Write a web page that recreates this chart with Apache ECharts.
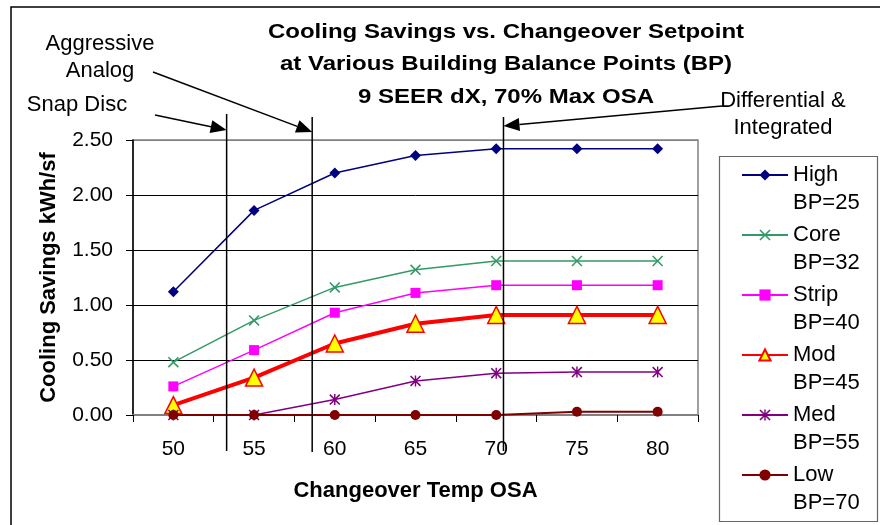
<!DOCTYPE html>
<html>
<head>
<meta charset="utf-8">
<script src="https://cdn.jsdelivr.net/npm/echarts@6/dist/echarts.min.js"></script>
<style>
  html, body { margin: 0; padding: 0; background: #fff; }
  #chart { width: 880px; height: 525px; }
</style>
</head>
<body>
<div id="chart"></div>
<script>
// Changeover setpoint (deg F outside air) on the category axis
const temps = ['50', '55', '60', '65', '70', '75', '80'];

// Building types and their balance points
const seriesNames = ['High', 'Core', 'Strip', 'Mod', 'Med', 'Low'];
const balancePoints = ['BP=25', 'BP=32', 'BP=40', 'BP=45', 'BP=55', 'BP=70'];

// Cooling savings, kWh/sf
const high  = [1.12, 1.86, 2.20, 2.36, 2.42, 2.42, 2.42];
const core  = [0.48, 0.86, 1.16, 1.32, 1.40, 1.40, 1.40];
const strip = [0.26, 0.59, 0.93, 1.11, 1.18, 1.18, 1.18];
const mod   = [0.09, 0.34, 0.65, 0.83, 0.91, 0.91, 0.91];
const med   = [0.00, 0.00, 0.14, 0.31, 0.38, 0.39, 0.39];
const low   = [0.00, 0.00, 0.00, 0.00, 0.00, 0.03, 0.03];

// Changeover controls and the setpoint each one reaches
const controlLabels = ['Snap Disc', 'Aggressive\nAnalog', 'Differential &\nIntegrated'];
const controlTemps = [53.3, 58.6, 70.45];

const FONT = '"Liberation Sans", Arial, Helvetica, sans-serif';

const X_SYMBOL = 'path://M0,1L1,0L10,9L9,10Z M9,0L10,1L1,10L0,9Z';
const STAR_SYMBOL = 'path://M4.35,0L5.65,0L5.65,10L4.35,10Z M0,1L1,0L10,9L9,10Z M9,0L10,1L1,10L0,9Z';

function lineSeries(name, data, color, symbol, symbolSize, width, itemStyle) {
  return {
    name: name,
    type: 'line',
    data: data,
    symbol: symbol,
    symbolSize: symbolSize,
    showSymbol: true,
    lineStyle: { color: color, width: width },
    itemStyle: Object.assign({ color: color, borderWidth: 0 }, itemStyle || {}),
    emphasis: { disabled: true }
  };
}

const chart = echarts.init(document.getElementById('chart'), null, { renderer: 'canvas' });

const legendText = { fontSize: 22, lineHeight: 28, color: '#000', fontFamily: FONT };

const option = {
  animation: false,
  textStyle: { fontFamily: FONT },
  grid: {
    left: 133, right: 182, top: 140, bottom: 110,
    show: true, borderColor: '#808080', borderWidth: 1.5, backgroundColor: 'transparent'
  },
  xAxis: {
    type: 'category',
    data: temps,
    boundaryGap: true,
    axisLine: { lineStyle: { color: '#808080', width: 2 } },
    axisTick: { show: true, inside: false, length: 7, lineStyle: { color: '#000', width: 1 } },
    axisLabel: { color: '#000', fontSize: 21, margin: 24, fontFamily: FONT },
    splitLine: { show: false },
    name: 'Changeover Temp OSA',
    nameLocation: 'middle',
    nameGap: 65,
    nameTextStyle: { fontSize: 22, fontWeight: 'bold', color: '#000', fontFamily: FONT }
  },
  yAxis: {
    type: 'value',
    min: 0, max: 2.5, interval: 0.5,
    axisLine: { show: true, lineStyle: { color: '#000', width: 1.5 } },
    axisTick: { show: true, length: 7, lineStyle: { color: '#000', width: 1 } },
    axisLabel: { formatter: v => v.toFixed(2), fontSize: 21, color: '#000', margin: 20, fontFamily: FONT },
    splitLine: { show: true, lineStyle: { color: ['#808080', '#000', '#000', '#000', '#000', '#808080'], width: 1 } },
    name: 'Cooling Savings kWh/sf',
    nameLocation: 'middle',
    nameGap: 73,
    nameTextStyle: { fontSize: 22, fontWeight: 'bold', color: '#000', fontFamily: FONT }
  },
  legend: [
    {
      data: seriesNames, orient: 'vertical', left: 741, top: 161, padding: 0,
      itemWidth: 46, itemHeight: 14, itemGap: 32, selectedMode: false,
      textStyle: legendText
    },
    {
      data: seriesNames, orient: 'vertical', left: 741, top: 189, padding: 0,
      itemWidth: 46, itemHeight: 14, itemGap: 32, selectedMode: false,
      formatter: n => balancePoints[seriesNames.indexOf(n)],
      itemStyle: { opacity: 0 }, lineStyle: { opacity: 0 },
      textStyle: legendText
    }
  ],
  series: [
    lineSeries(seriesNames[0], high, '#000080', 'diamond', 11, 1.5),
    lineSeries(seriesNames[1], core, '#339966', X_SYMBOL, 11, 1.5),
    lineSeries(seriesNames[2], strip, '#FF00FF', 'rect', 10, 1.5),
    lineSeries(seriesNames[3], mod, '#FF0000', 'triangle', 17, 4,
      { color: '#FFFF00', borderColor: '#FF0000', borderWidth: 1.5 }),
    lineSeries(seriesNames[4], med, '#800080', STAR_SYMBOL, 11, 1.5),
    lineSeries(seriesNames[5], low, '#800000', 'circle', 10, 2)
  ]
};

chart.setOption(option);

// Position of a changeover temperature along the category axis
const c0 = chart.convertToPixel({ xAxisIndex: 0 }, 0);
const c1 = chart.convertToPixel({ xAxisIndex: 0 }, 1);
const t0 = Number(temps[0]);
const step = Number(temps[1]) - t0;
function tempToX(t) { return c0 + (t - t0) / step * (c1 - c0); }

function arrow(x1, y1, x2, y2) {
  const dx = x2 - x1, dy = y2 - y1;
  const len = Math.sqrt(dx * dx + dy * dy);
  const ux = dx / len, uy = dy / len;
  const headLen = 16, halfW = 6.5;
  const bx = x2 - ux * headLen, by = y2 - uy * headLen;
  return [
    { type: 'line', z: 100, shape: { x1: x1, y1: y1, x2: bx, y2: by },
      style: { stroke: '#000', lineWidth: 1.5 } },
    { type: 'polygon', z: 100,
      shape: { points: [[x2, y2], [bx - uy * halfW, by + ux * halfW], [bx + uy * halfW, by - ux * halfW]] },
      style: { fill: '#000' } }
  ];
}

const xs = controlTemps.map(tempToX);
const graphics = [
  // outer chart frame
  { type: 'rect', z: 100, shape: { x: 11, y: 7, width: 900, height: 600 },
    style: { fill: 'none', stroke: '#000', lineWidth: 1.5 } },
  // legend frame
  { type: 'rect', z: 100, shape: { x: 719.5, y: 156.5, width: 158, height: 365 },
    style: { fill: 'none', stroke: '#666', lineWidth: 1.2 } },
  // title
  { type: 'text', z: 100, x: 506, y: 16, scaleX: 1.2,
    style: { text: 'Cooling Savings vs. Changeover Setpoint\nat Various Building Balance Points (BP)\n9 SEER dX, 70% Max OSA',
      fontSize: 20, fontWeight: 'bold', fontFamily: FONT, fill: '#000',
      align: 'center', verticalAlign: 'top', lineHeight: 32.5 } },
  // control annotations
  { type: 'text', z: 100, x: 77, y: 105,
    style: { text: controlLabels[0], fontSize: 22, fontFamily: FONT, fill: '#000', align: 'center', verticalAlign: 'middle' } },
  { type: 'text', z: 100, x: 100, y: 57,
    style: { text: controlLabels[1], fontSize: 22, fontFamily: FONT, fill: '#000', align: 'center', verticalAlign: 'middle', lineHeight: 27 } },
  { type: 'text', z: 100, x: 783, y: 114,
    style: { text: controlLabels[2], fontSize: 22, fontFamily: FONT, fill: '#000', align: 'center', verticalAlign: 'middle', lineHeight: 27 } },
  // vertical setpoint lines
  { type: 'line', z: 100, shape: { x1: xs[0], y1: 114, x2: xs[0], y2: 451 }, style: { stroke: '#000', lineWidth: 1.5 } },
  { type: 'line', z: 100, shape: { x1: xs[1], y1: 117, x2: xs[1], y2: 452 }, style: { stroke: '#000', lineWidth: 1.5 } },
  { type: 'line', z: 100, shape: { x1: xs[2], y1: 117, x2: xs[2], y2: 451 }, style: { stroke: '#000', lineWidth: 1.5 } }
]
  .concat(arrow(155, 115, xs[0], 130))
  .concat(arrow(153, 72, xs[1], 132))
  .concat(arrow(722, 106, xs[2], 126));

chart.setOption({ graphic: graphics });
</script>
</body>
</html>
